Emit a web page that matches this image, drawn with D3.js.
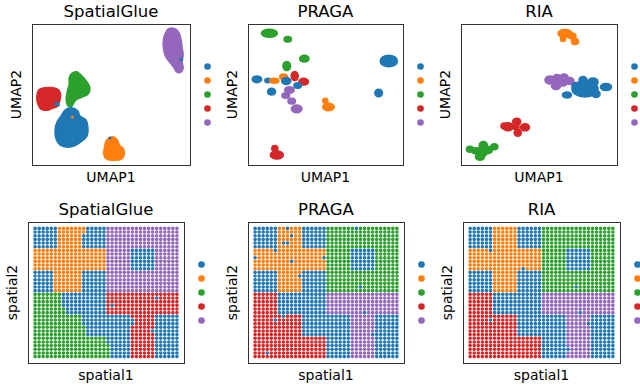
<!DOCTYPE html>
<html><head><meta charset="utf-8">
<script src="https://cdn.jsdelivr.net/npm/d3@7"></script>
<style>body{margin:0;background:#fff}svg{display:block}text{font-family:"DejaVu Sans",sans-serif;fill:#000}</style>
</head><body><svg id="c" width="640" height="387"></svg>
<script>
// ---------------- DATA ----------------
const methods = ["SpatialGlue", "PRAGA", "RIA"];
const clusterIds = [0, 1, 2, 3, 4];
const clusterColors = ["#1f77b4", "#ff7f0e", "#2ca02c", "#d62728", "#9467bd"];

// SpatialGlue UMAP: cluster blobs as outlines [umap1, umap2]
const sgUmapBlobs = [
  {k: 4, pts: [[13.5,13.6],[14.1,13.6],[14.5,13.2],[14.7,12.5],[14.8,11.7],[14.9,11.0],[14.8,10.3],[14.9,9.7],[14.7,9.3],[14.3,9.3],[14.0,9.8],[13.6,10.3],[13.2,10.9],[13.0,11.7],[13.0,12.5],[13.2,13.2]]},
  {k: 3, pts: [[0.7,7.5],[1.3,7.7],[2.1,7.7],[2.6,7.5],[2.8,7.0],[2.7,6.4],[2.5,5.9],[2.0,5.7],[1.5,5.5],[0.9,5.6],[0.6,6.1],[0.5,6.8]]},
  {k: 2, pts: [[3.9,9.1],[4.4,9.3],[4.9,8.9],[5.4,8.3],[5.7,7.7],[5.5,7.1],[4.9,6.8],[4.3,6.5],[3.9,5.9],[3.6,5.9],[3.4,6.5],[3.5,7.3],[3.7,8.1],[3.7,8.7]]},
  {k: 0, pts: [[3.3,5.5],[3.9,5.7],[4.5,5.4],[4.7,4.9],[5.3,4.5],[5.5,3.7],[5.4,2.9],[4.9,2.4],[4.3,2.0],[3.5,1.8],[2.8,2.0],[2.4,2.6],[2.3,3.5],[2.5,4.3],[2.9,4.9]]},
  {k: 1, pts: [[7.5,2.6],[8.0,2.8],[8.4,2.5],[8.6,2.0],[9.0,1.6],[9.1,1.1],[8.8,0.6],[8.1,0.5],[7.4,0.6],[7.1,1.1],[7.2,1.8],[7.3,2.3]]}
];
// SpatialGlue UMAP: isolated points [cluster, umap1, umap2]
const sgUmapPoints = [[0,14.77,10.5],[0,14.7,10.6],[1,4.0,4.8],[0,7.7,2.7],[0,2.5,6.2],[0,2.3,6.1],[0,2.6,6.0]];

// PRAGA UMAP: sub-clusters [cluster, umap1, umap2, spread1, spread2]
const pragaUmap = [
  [2,2.15,13.17,0.8,0.4],[2,4.0,12.57,0.37,0.27],[2,5.67,10.63,0.47,0.33],[2,3.9,9.9,0.38,0.45],
  [0,14.17,10.4,0.87,0.57],[0,13.15,7.2,0.38,0.37],[0,0.9,8.57,0.47,0.33],[0,2.0,8.45,0.3,0.22],
  [1,2.65,8.42,0.45,0.25],[0,2.37,7.33,0.4,0.33],[1,3.58,8.83,0.38,0.27],[0,3.85,8.4,0.45,0.35],
  [3,4.7,8.9,0.35,0.45],[3,5.6,8.33,0.48,0.33],[0,5.0,7.95,0.37,0.28],
  [4,4.17,7.5,0.47,0.33],[4,3.8,6.95,0.38,0.28],[4,4.4,6.38,0.37,0.28],[4,4.9,5.62,0.53,0.38],
  [1,7.78,6.42,0.25,0.25],[1,8.1,5.8,0.58,0.37],[3,2.9,1.0,0.65,0.4],[3,2.7,1.65,0.3,0.3]
];
// RIA UMAP: sub-clusters [cluster, umap1, umap2, spread1, spread2]
const riaUmap = [
  [1,10.4,13.15,0.7,0.4],[1,11.1,12.9,0.4,0.3],[1,10.2,12.6,0.25,0.25],[1,11.4,12.35,0.35,0.3],
  [4,8.9,8.5,0.5,0.4],[4,9.6,8.7,0.4,0.35],[4,10.3,8.8,0.4,0.3],[4,10.9,8.4,0.4,0.35],[4,9.5,7.9,0.45,0.35],[4,10.2,8.2,0.4,0.3],
  [0,12.4,7.6,1.3,0.8],[0,12.2,8.5,0.4,0.35],[0,13.2,8.3,0.5,0.4],[0,14.5,7.8,0.55,0.35],[0,10.6,7.0,0.45,0.3],[0,11.5,7.9,0.4,0.35],[0,13.5,7.1,0.4,0.35],
  [3,4.7,3.83,0.5,0.4],[3,5.57,4.33,0.4,0.35],[3,6.4,3.77,0.45,0.35],[3,5.67,3.23,0.35,0.35],[3,4.35,3.9,0.35,0.3],[3,5.5,3.8,0.3,0.3],
  [2,2.07,1.33,0.6,0.5],[2,2.23,2.0,0.4,0.35],[2,0.9,1.57,0.35,0.3],[2,3.33,1.83,0.35,0.3],[2,2.73,1.5,0.4,0.35],[2,1.9,0.83,0.45,0.35],[2,1.4,1.43,0.3,0.3]
];

// Spatial cluster labels: 36 x 36 grid, top row first (one digit per spot)
const sgSpatial = [
"000000111111100000444444444444444444",
"000000111111100000444444444444444444",
"000000111111000000444444444444444444",
"000000111111000000444444444444444444",
"000000111111000000444444444444444444",
"000000111111000000444444444444444444",
"111111111111111111444444000000444444",
"111111111111111111444444000000444444",
"111111111111111111444444000000444444",
"111111111111111111444444000000444444",
"111111111111111111444444000000444444",
"111111111111111111444444000000444444",
"000001111111000000444444444444444444",
"000001111111000000444444444444444444",
"000001111111000000444444444444444444",
"000001111111000000444444444444444444",
"000001111111000000444444444444444444",
"000001111111000000444444444444444444",
"222222200000000000333333333333333333",
"222222200000000000333333333333033333",
"222222200000000000333333333333333333",
"222222200000000000303333333333333333",
"222222220000000000333333333333333333",
"222222220000000000333333333333333333",
"222222222222000000000000333333000000",
"222222222222000000000000033333000000",
"222222222222000000000000033333000000",
"222222222222200000000000333333000000",
"222222222222200000000000333330000000",
"222222222222200000000000333333000000",
"222222222222222222000000333333000000",
"222222222222222222000000333333000000",
"222222222222222222200000333333000000",
"222222222222222222200000333333000000",
"222222222222222222200000333333000000",
"222222222222222222200000333333000000"
];
const pragaSpatial = [
"000000110111000000222222202222222222",
"000000111111000000222222222222222222",
"000000111011000000222222222222222222",
"000000111111000000222222222222222222",
"000000100111000000222222222222222222",
"000000111111000000222222222222222222",
"111110111111111111222222000000222222",
"111111111111111111222222000000222222",
"011111111111111110222222000000222222",
"111111111011111111222222000000222222",
"111111111111111111222222000000222222",
"111111111111111111222222000000222222",
"000000111111000000222222222222222222",
"000000111110000000222222222222222222",
"000000111111000000222222222222222222",
"000000111111000000222222222222222222",
"000000111111000000222222220222222222",
"000000111111000000222222222222222222",
"333333000000000000444444444444444444",
"333333000000000000444444444444444444",
"333333000000000000444444444444444444",
"333333000000000000444444444444444444",
"333333000000000000444444444444444444",
"333333000000000000444444444044444444",
"333333303333000000000000444444000000",
"333330333333000000000000444444000000",
"333333333333000000000000444444000000",
"333333333333000000000000444444000000",
"333333333333000000000000444444000000",
"333333333333000000000000444440000000",
"333333333333333333000000444444000000",
"333333333333333333000000444444000000",
"333333333333333333000000444444000000",
"333333333333333333000000444444000000",
"333033333333333333000000444444000000",
"333333333333333333000000444444000000"
];
const riaSpatial = [
"000000111111000000222222222222222222",
"000000111111000000222222222222222222",
"000000111111000000222222222222222222",
"000000111111000000222222222222222222",
"000000111111000000222222222222222222",
"000000111111000000222222222222222222",
"111110111111111111222222000000222222",
"111111111111111111222222000000222222",
"111111111111111111222222000000222222",
"111111111111111111222222000000222222",
"111111111111111111222222000000222222",
"111111111111101111222222000000222222",
"000000111111000000222222222222222222",
"000000111111000000222222222222222222",
"000000111111000000222222222222222222",
"000000111111000000222222222222222222",
"000000111111000000222222220222222222",
"000000111111000000222222222222222222",
"333333000000000000444444444444444444",
"333333000000000000444444444444444444",
"333333000000000000444444444444444444",
"333333000000000000444444444444444444",
"333333000000000000444444444444444444",
"333333000000000000444444444044444444",
"333333333333000000000000444444000000",
"333330333333000000000000444444000000",
"333333333333000000000000444440000000",
"333333333333000000000000444444000000",
"333333333333000000000000444444000000",
"333333333333000000000000444444000000",
"333333333333333333000000444444000000",
"333333333333333333000000444444000000",
"333333333333333333000000444444000000",
"333333333333333333000000044444000000",
"333333333333333333000000444444000000",
"333333333333333333000000444444000000"
];

// ---------------- LAYOUT ----------------
const svg = d3.select("#c");
const umapX = [[32,190],[248,403],[461,617]];
const umapY = [24,165];
const spX = [[28,184],[248,404],[463,620]];
const spY = [222,363];
const color = d3.scaleOrdinal().domain(clusterIds).range(clusterColors);

function frame(g, x0, x1, y0, y1, title, xl, yl) {
  g.append("rect").attr("x", x0+0.5).attr("y", y0+0.5).attr("width", x1-x0).attr("height", y1-y0)
    .attr("fill", "none").attr("stroke", "#333").attr("stroke-width", 1);
  g.append("text").attr("x", (x0+x1)/2).attr("y", y0-7).attr("text-anchor", "middle")
    .attr("font-size", 16.5).text(title);
  g.append("text").attr("x", (x0+x1)/2).attr("y", y1+17).attr("text-anchor", "middle")
    .attr("font-size", 14).text(xl);
  g.append("text").attr("transform", `translate(${x0-11},${(y0+y1)/2}) rotate(-90)`)
    .attr("text-anchor", "middle").attr("font-size", 14).text(yl);
  const ly = d3.scalePoint().domain(clusterIds).range([(y0+y1)/2-28, (y0+y1)/2+28]);
  g.selectAll("circle.leg").data(clusterIds).join("circle").attr("class","leg")
    .attr("cx", x1+17.5).attr("cy", d => ly(d)).attr("r", 3.3).attr("fill", d => color(d));
}

// UMAP panels
methods.forEach((m, i) => {
  const g = svg.append("g");
  const xs = d3.scaleLinear().domain([0, 15.6]).range(umapX[i]);
  const ys = d3.scaleLinear().domain([0, 14.1]).range([umapY[1], umapY[0]]);
  if (i === 0) {
    const line = d3.line().x(d => xs(d[0])).y(d => ys(d[1])).curve(d3.curveCatmullRomClosed);
    g.selectAll("path.blob").data(sgUmapBlobs).join("path").attr("class","blob")
      .attr("d", d => line(d.pts)).attr("fill", d => color(d.k))
      .attr("stroke", d => color(d.k)).attr("stroke-width", 2).attr("stroke-linejoin", "round");
    g.selectAll("circle.pt").data(sgUmapPoints).join("circle").attr("class","pt")
      .attr("cx", d => xs(d[1])).attr("cy", d => ys(d[2])).attr("r", 1.6).attr("fill", d => color(d[0]));
  } else {
    const data = i === 1 ? pragaUmap : riaUmap;
    g.selectAll("ellipse").data(data).join("ellipse")
      .attr("cx", d => xs(d[1])).attr("cy", d => ys(d[2]))
      .attr("rx", d => xs(d[3]) - xs(0)).attr("ry", d => ys(0) - ys(d[4]))
      .attr("fill", d => color(d[0])).attr("stroke", d => color(d[0])).attr("stroke-width", 1.6);
  }
  frame(g, umapX[i][0], umapX[i][1], umapY[0], umapY[1], m, "UMAP1", "UMAP2");
});

// Spatial panels
const spatialData = [sgSpatial, pragaSpatial, riaSpatial];
methods.forEach((m, i) => {
  const g = svg.append("g");
  const xs = d3.scaleLinear().domain([-1.75, 36.75]).range(spX[i]);
  const ys = d3.scaleLinear().domain([-1.75, 36.75]).range([spY[1], spY[0]]);
  const spots = [];
  spatialData[i].forEach((row, r) => {
    for (let c = 0; c < row.length; c++) spots.push({s1: c, s2: 35 - r, k: +row[c]});
  });
  g.selectAll("circle.spot").data(spots).join("circle").attr("class","spot")
    .attr("cx", d => xs(d.s1)).attr("cy", d => ys(d.s2)).attr("r", 1.8)
    .attr("fill", d => color(d.k));
  frame(g, spX[i][0], spX[i][1], spY[0], spY[1], m, "spatial1", "spatial2");
});
</script></body></html>
